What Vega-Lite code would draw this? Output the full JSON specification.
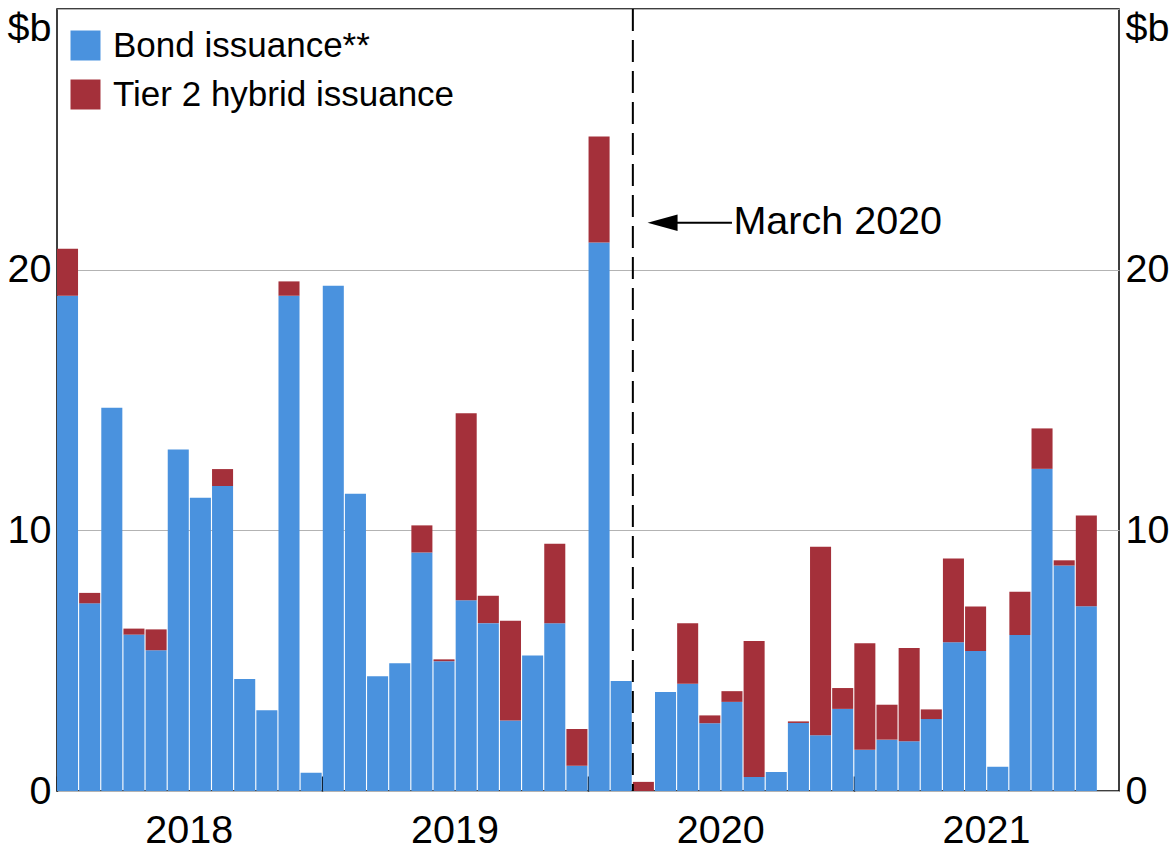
{
  "$schema": "https://vega.github.io/schema/vega-lite/v6.json",
  "width": 1062,
  "height": 782,
  "autosize": "none",
  "padding": {"left": 57, "top": 9, "right": 53, "bottom": 59},
  "background": "white",
  "datasets": {
    "bars": [
      {"m": "2018-01", "s": "Bond issuance**", "v": 19.0}, {"m": "2018-01", "s": "Tier 2 hybrid issuance", "v": 1.8},
      {"m": "2018-02", "s": "Bond issuance**", "v": 7.2}, {"m": "2018-02", "s": "Tier 2 hybrid issuance", "v": 0.4},
      {"m": "2018-03", "s": "Bond issuance**", "v": 14.7},
      {"m": "2018-04", "s": "Bond issuance**", "v": 6.0}, {"m": "2018-04", "s": "Tier 2 hybrid issuance", "v": 0.23},
      {"m": "2018-05", "s": "Bond issuance**", "v": 5.4}, {"m": "2018-05", "s": "Tier 2 hybrid issuance", "v": 0.8},
      {"m": "2018-06", "s": "Bond issuance**", "v": 13.1},
      {"m": "2018-07", "s": "Bond issuance**", "v": 11.25},
      {"m": "2018-08", "s": "Bond issuance**", "v": 11.7}, {"m": "2018-08", "s": "Tier 2 hybrid issuance", "v": 0.65},
      {"m": "2018-09", "s": "Bond issuance**", "v": 4.3},
      {"m": "2018-10", "s": "Bond issuance**", "v": 3.1},
      {"m": "2018-11", "s": "Bond issuance**", "v": 19.0}, {"m": "2018-11", "s": "Tier 2 hybrid issuance", "v": 0.55},
      {"m": "2018-12", "s": "Bond issuance**", "v": 0.7},
      {"m": "2019-01", "s": "Bond issuance**", "v": 19.38},
      {"m": "2019-02", "s": "Bond issuance**", "v": 11.4},
      {"m": "2019-03", "s": "Bond issuance**", "v": 4.4},
      {"m": "2019-04", "s": "Bond issuance**", "v": 4.9},
      {"m": "2019-05", "s": "Bond issuance**", "v": 9.15}, {"m": "2019-05", "s": "Tier 2 hybrid issuance", "v": 1.04},
      {"m": "2019-06", "s": "Bond issuance**", "v": 4.98}, {"m": "2019-06", "s": "Tier 2 hybrid issuance", "v": 0.07},
      {"m": "2019-07", "s": "Bond issuance**", "v": 7.32}, {"m": "2019-07", "s": "Tier 2 hybrid issuance", "v": 7.17},
      {"m": "2019-08", "s": "Bond issuance**", "v": 6.44}, {"m": "2019-08", "s": "Tier 2 hybrid issuance", "v": 1.05},
      {"m": "2019-09", "s": "Bond issuance**", "v": 2.7}, {"m": "2019-09", "s": "Tier 2 hybrid issuance", "v": 3.83},
      {"m": "2019-10", "s": "Bond issuance**", "v": 5.2},
      {"m": "2019-11", "s": "Bond issuance**", "v": 6.44}, {"m": "2019-11", "s": "Tier 2 hybrid issuance", "v": 3.05},
      {"m": "2019-12", "s": "Bond issuance**", "v": 0.97}, {"m": "2019-12", "s": "Tier 2 hybrid issuance", "v": 1.41},
      {"m": "2020-01", "s": "Bond issuance**", "v": 21.04}, {"m": "2020-01", "s": "Tier 2 hybrid issuance", "v": 4.07},
      {"m": "2020-02", "s": "Bond issuance**", "v": 4.22},
      {"m": "2020-03", "s": "Tier 2 hybrid issuance", "v": 0.35},
      {"m": "2020-04", "s": "Bond issuance**", "v": 3.8},
      {"m": "2020-05", "s": "Bond issuance**", "v": 4.11}, {"m": "2020-05", "s": "Tier 2 hybrid issuance", "v": 2.33},
      {"m": "2020-06", "s": "Bond issuance**", "v": 2.6}, {"m": "2020-06", "s": "Tier 2 hybrid issuance", "v": 0.3},
      {"m": "2020-07", "s": "Bond issuance**", "v": 3.42}, {"m": "2020-07", "s": "Tier 2 hybrid issuance", "v": 0.41},
      {"m": "2020-08", "s": "Bond issuance**", "v": 0.54}, {"m": "2020-08", "s": "Tier 2 hybrid issuance", "v": 5.21},
      {"m": "2020-09", "s": "Bond issuance**", "v": 0.73},
      {"m": "2020-10", "s": "Bond issuance**", "v": 2.61}, {"m": "2020-10", "s": "Tier 2 hybrid issuance", "v": 0.06},
      {"m": "2020-11", "s": "Bond issuance**", "v": 2.14}, {"m": "2020-11", "s": "Tier 2 hybrid issuance", "v": 7.23},
      {"m": "2020-12", "s": "Bond issuance**", "v": 3.15}, {"m": "2020-12", "s": "Tier 2 hybrid issuance", "v": 0.8},
      {"m": "2021-01", "s": "Bond issuance**", "v": 1.58}, {"m": "2021-01", "s": "Tier 2 hybrid issuance", "v": 4.09},
      {"m": "2021-02", "s": "Bond issuance**", "v": 1.97}, {"m": "2021-02", "s": "Tier 2 hybrid issuance", "v": 1.34},
      {"m": "2021-03", "s": "Bond issuance**", "v": 1.91}, {"m": "2021-03", "s": "Tier 2 hybrid issuance", "v": 3.58},
      {"m": "2021-04", "s": "Bond issuance**", "v": 2.76}, {"m": "2021-04", "s": "Tier 2 hybrid issuance", "v": 0.37},
      {"m": "2021-05", "s": "Bond issuance**", "v": 5.71}, {"m": "2021-05", "s": "Tier 2 hybrid issuance", "v": 3.21},
      {"m": "2021-06", "s": "Bond issuance**", "v": 5.37}, {"m": "2021-06", "s": "Tier 2 hybrid issuance", "v": 1.71},
      {"m": "2021-07", "s": "Bond issuance**", "v": 0.93},
      {"m": "2021-08", "s": "Bond issuance**", "v": 5.98}, {"m": "2021-08", "s": "Tier 2 hybrid issuance", "v": 1.66},
      {"m": "2021-09", "s": "Bond issuance**", "v": 12.36}, {"m": "2021-09", "s": "Tier 2 hybrid issuance", "v": 1.55},
      {"m": "2021-10", "s": "Bond issuance**", "v": 8.65}, {"m": "2021-10", "s": "Tier 2 hybrid issuance", "v": 0.2},
      {"m": "2021-11", "s": "Bond issuance**", "v": 7.09}, {"m": "2021-11", "s": "Tier 2 hybrid issuance", "v": 3.48}
    ],
    "ann": [
      {"m": "2020-03", "mt": "2020-04", "m2": "2020-07", "v": 21.8, "label": "March 2020"}
    ]
  },
  "layer": [
    {
      "data": {"name": "bars"},
      "mark": {"type": "bar", "stroke": null},
      "encoding": {
        "x": {
          "field": "m", "type": "ordinal", "title": null,
          "scale": {"domain": ["2018-01","2018-02","2018-03","2018-04","2018-05","2018-06","2018-07","2018-08","2018-09","2018-10","2018-11","2018-12","2019-01","2019-02","2019-03","2019-04","2019-05","2019-06","2019-07","2019-08","2019-09","2019-10","2019-11","2019-12","2020-01","2020-02","2020-03","2020-04","2020-05","2020-06","2020-07","2020-08","2020-09","2020-10","2020-11","2020-12","2021-01","2021-02","2021-03","2021-04","2021-05","2021-06","2021-07","2021-08","2021-09","2021-10","2021-11","2021-12"], "paddingInner": 0.05, "paddingOuter": 0},
          "axis": {
            "values": ["2018-01", "2019-01", "2020-01", "2021-01"],
            "bandPosition": 0,
            "labelExpr": "substring(datum.label, 0, 4)",
            "labelOffset": 121.7,
            "labelAngle": 0,
            "labelAlign": "center",
            "tickSize": -15,
            "tickWidth": 1.5,
            "tickColor": "black",
            "labelPadding": 35.5,
            "domain": false,
            "grid": false
          }
        },
        "y": {
          "field": "v", "type": "quantitative", "stack": "zero", "title": null,
          "scale": {"domain": [0, 30], "nice": false},
          "axis": {
            "orient": "left",
            "values": [0, 10, 20, 30],
            "labelExpr": "datum.value == 30 ? '$b' : datum.label",
            "labelBaseline": {"condition": {"test": "datum.value == 30", "value": "top"}, "value": "middle"},
            "grid": true, "gridColor": "#b3b3b3", "gridWidth": 1.2,
            "tickSize": 0, "labelPadding": 6, "domain": false
          }
        },
        "color": {
          "field": "s", "type": "nominal", "title": null,
          "scale": {"domain": ["Bond issuance**", "Tier 2 hybrid issuance"], "range": ["#4a92de", "#a4303a"]},
          "legend": {"orient": "none", "legendX": 11, "legendY": 19}
        },
        "order": {"field": "s", "sort": "ascending"}
      }
    },
    {
      "data": {"name": "ann"},
      "mark": {"type": "rule", "strokeDash": [22, 9], "strokeWidth": 2, "color": "black"},
      "encoding": {
        "x": {"field": "m", "type": "ordinal", "bandPosition": 0}
      }
    },
    {
      "data": {"name": "ann"},
      "mark": {"type": "rule", "strokeWidth": 2, "color": "black"},
      "encoding": {
        "x": {"field": "mt", "type": "ordinal", "bandPosition": 0},
        "x2": {"field": "m2"},
        "y": {"field": "v", "type": "quantitative", "axis": null}
      }
    },
    {
      "data": {"name": "ann"},
      "mark": {"type": "point", "shape": "M0,0L2,-0.55L2,0.55Z", "filled": true, "size": 900, "color": "black", "opacity": 1},
      "encoding": {
        "x": {"field": "m", "type": "ordinal", "bandPosition": 0.7},
        "y": {"field": "v", "type": "quantitative", "axis": null}
      }
    },
    {
      "data": {"name": "ann"},
      "mark": {"type": "text", "align": "left", "baseline": "middle", "dx": 12, "dy": -1, "fontSize": 39.5, "color": "black"},
      "encoding": {
        "x": {"field": "m2", "type": "ordinal", "bandPosition": 0},
        "y": {
          "field": "v", "type": "quantitative",
          "axis": {
            "orient": "right",
            "values": [0, 10, 20, 30],
            "labelExpr": "datum.value == 30 ? '$b' : datum.label",
            "labelBaseline": {"condition": {"test": "datum.value == 30", "value": "top"}, "value": "middle"},
            "grid": false, "tickSize": 0, "labelPadding": 6, "domain": false, "title": null
          }
        },
        "text": {"field": "label"}
      }
    }
  ],
  "resolve": {"axis": {"y": "independent"}},
  "config": {
    "font": "Liberation Sans",
    "view": {"stroke": "black", "strokeWidth": 1.5},
    "axis": {"labelFont": "Liberation Sans", "labelFontSize": 39.5, "labelColor": "black", "labelOverlap": false, "labelFlush": false, "labelBound": false},
    "legend": {"symbolType": "square", "symbolSize": 900, "symbolStrokeWidth": 0, "symbolOpacity": 1, "labelFont": "Liberation Sans", "labelFontSize": 35, "labelColor": "black", "labelLimit": 1000, "rowPadding": 13, "labelOffset": 10, "padding": 0}
  }
}
